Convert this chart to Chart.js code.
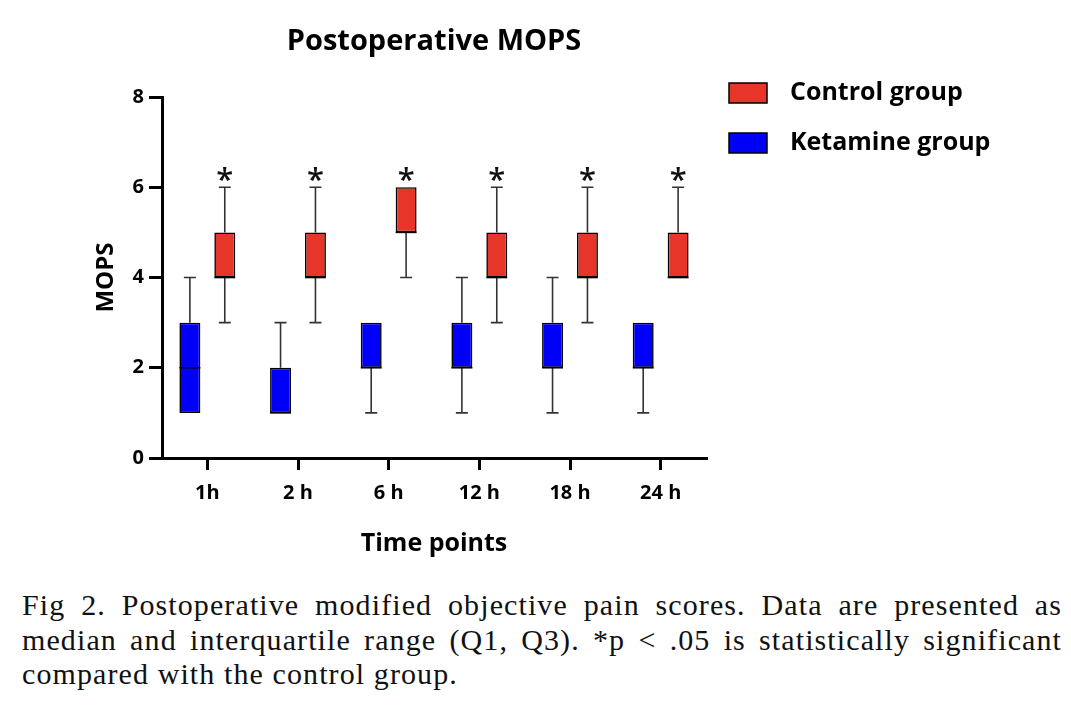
<!DOCTYPE html>
<html>
<head>
<meta charset="utf-8">
<script src="https://cdn.jsdelivr.net/npm/chart.js@4.4.1/dist/chart.umd.min.js"></script>
<style>
  html, body { margin: 0; padding: 0; background: #fff; }
  #wrap { position: absolute; left: 0; top: 0; width: 1071px; height: 580px; }
  #caption {
    position: absolute; left: 22px; top: 588px; width: 1040px;
    font-family: "Liberation Serif", "Times New Roman", serif;
    font-size: 30px; line-height: 34.5px; color: #111; letter-spacing: 1.1px;
  }
  #caption span { display: block; white-space: nowrap; text-align: justify; text-align-last: justify; }
  #caption span:last-child { text-align-last: left; }
</style>
</head>
<body>
<div id="wrap"><canvas id="mopsChart" width="1071" height="580"></canvas></div>
<div id="caption"><span>Fig 2. Postoperative modified objective pain scores. Data are presented as</span><span>median and interquartile range (Q1, Q3). *p &lt; .05 is statistically significant</span><span>compared with the control group.</span></div>
<script>
const timePoints = ["1h", "2 h", "6 h", "12 h", "18 h", "24 h"];

const ketamineMin = [1, 1, 1, 1, 1, 1];
const ketamineQ1 = [1, 1, 2, 2, 2, 2];
const ketamineMedian = [2, 1, 2, 2, 2, 2];
const ketamineQ3 = [3, 2, 3, 3, 3, 3];
const ketamineMax = [4, 3, 3, 4, 4, 3];

const controlMin = [3, 3, 4, 3, 3, 4];
const controlQ1 = [4, 4, 5, 4, 4, 4];
const controlMedian = [4, 4, 5, 4, 4, 4];
const controlQ3 = [5, 5, 6, 5, 5, 5];
const controlMax = [6, 6, 6, 6, 6, 6];

const significance = ["*", "*", "*", "*", "*", "*"];

const yTicks = [0, 2, 4, 6, 8];

const RED = "#E8352A";
const BLUE = "#0000FA";
const FONT = "'Open Sans', Lato, sans-serif";

const groups = [
  { label: "Ketamine group", color: BLUE, min: ketamineMin, q1: ketamineQ1, median: ketamineMedian, q3: ketamineQ3, max: ketamineMax },
  { label: "Control group", color: RED, min: controlMin, q1: controlQ1, median: controlMedian, q3: controlQ3, max: controlMax, marks: significance }
];

// whiskers, medians, asterisks, title and legend
const boxExtras = {
  id: "boxExtras",
  beforeDatasetsDraw(chart) {
    const ctx = chart.ctx;
    const y = chart.scales.y;
    ctx.save();
    ctx.strokeStyle = "#333";
    ctx.lineWidth = 1.6;
    groups.forEach((g, di) => {
      chart.getDatasetMeta(di).data.forEach((bar, i) => {
        const cap = 6;
        const pairs = [[g.q3[i], g.max[i]], [g.q1[i], g.min[i]]];
        pairs.forEach(([from, to]) => {
          if (from === to) return;
          const y0 = y.getPixelForValue(from), y1 = y.getPixelForValue(to);
          ctx.beginPath();
          ctx.moveTo(bar.x, y0); ctx.lineTo(bar.x, y1);
          ctx.moveTo(bar.x - cap, y1); ctx.lineTo(bar.x + cap, y1);
          ctx.stroke();
        });
      });
    });
    ctx.restore();
  },
  afterDatasetsDraw(chart) {
    const ctx = chart.ctx;
    const y = chart.scales.y;
    ctx.save();
    groups.forEach((g, di) => {
      chart.getDatasetMeta(di).data.forEach((bar, i) => {
        const ym = y.getPixelForValue(g.median[i]);
        ctx.strokeStyle = "#000";
        ctx.lineWidth = 1.6;
        ctx.beginPath();
        ctx.moveTo(bar.x - bar.width / 2, ym); ctx.lineTo(bar.x + bar.width / 2, ym);
        ctx.stroke();
        if (g.marks && g.marks[i]) {
          ctx.fillStyle = "#111";
          ctx.font = "600 31px " + FONT;
          ctx.textAlign = "center";
          ctx.textBaseline = "alphabetic";
          ctx.fillText(g.marks[i], bar.x, y.getPixelForValue(g.max[i]) + 3);
        }
      });
    });
    ctx.restore();
  },
  afterDraw(chart) {
    const ctx = chart.ctx;
    const area = chart.chartArea;
    ctx.save();
    ctx.fillStyle = "#000";
    ctx.font = "bold 29px " + FONT;
    ctx.textAlign = "center";
    ctx.textBaseline = "middle";
    ctx.fillText("Postoperative MOPS", (area.left + area.right) / 2, 42);

    [groups[1], groups[0]].forEach((g, k) => {
      const cy = 93 + k * 50;
      ctx.fillStyle = g.color;
      ctx.fillRect(729, cy - 10, 38, 20);
      ctx.strokeStyle = "#000";
      ctx.lineWidth = 1.5;
      ctx.strokeRect(729, cy - 10, 38, 20);
      ctx.fillStyle = "#000";
      ctx.textAlign = "left";
      ctx.font = "bold 25px " + FONT;
      ctx.fillText(g.label, 790, cy);
    });
    ctx.restore();
  }
};

new Chart(document.getElementById("mopsChart").getContext("2d"), {
  type: "bar",
  data: {
    labels: timePoints,
    datasets: groups.map(g => ({
      label: g.label,
      data: g.q1.map((v, i) => [v, g.q3[i]]),
      backgroundColor: g.color,
      borderColor: "#000",
      borderWidth: 1.6,
      borderSkipped: false,
      categoryPercentage: 0.77,
      barPercentage: 0.6
    }))
  },
  options: {
    responsive: false,
    animation: false,
    layout: { padding: { left: 80, right: 365, top: 97, bottom: 0 } },
    plugins: {
      legend: { display: false },
      title: { display: false },
      tooltip: { enabled: false }
    },
    scales: {
      x: {
        afterFit: s => { s.height = 122; },
        grid: { display: true, drawOnChartArea: false, offset: false, color: "#000", lineWidth: 3, tickLength: 12 },
        border: { color: "#000", width: 3 },
        ticks: { color: "#000", padding: 11, font: { family: FONT, size: 20, weight: "bold" } },
        title: { display: true, text: "Time points", color: "#000", padding: { top: 0, bottom: 21 }, font: { family: FONT, size: 25, weight: "bold" } }
      },
      y: {
        min: 0, max: 8,
        afterFit: s => { s.width = 82; },
        afterBuildTicks: s => { s.ticks = yTicks.map(v => ({ value: v })); },
        grid: { display: true, drawOnChartArea: false, color: "#000", lineWidth: 3, tickLength: 13 },
        border: { color: "#000", width: 3 },
        ticks: { color: "#000", padding: 5, font: { family: FONT, size: 20, weight: "bold" } },
        title: { display: true, text: "MOPS", color: "#000", padding: { top: 12, bottom: 0 }, font: { family: FONT, size: 24, weight: "bold" } }
      }
    }
  },
  plugins: [boxExtras]
});
</script>
</body>
</html>
